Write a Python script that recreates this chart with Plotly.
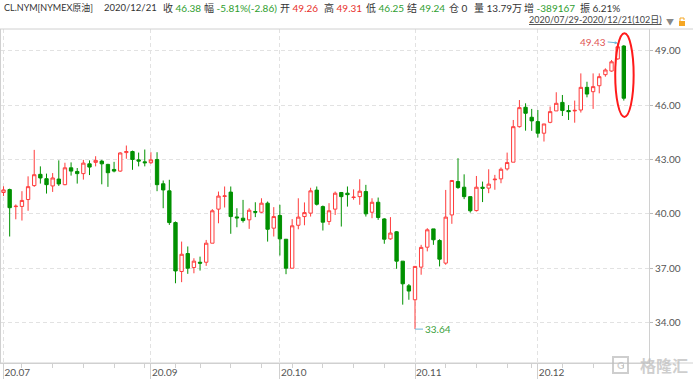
import plotly.graph_objects as go
import pandas as pd

# ---------------- data ----------------
dates = pd.bdate_range("2020-07-29", "2020-12-21", freq="C",
                       holidays=["2020-09-07", "2020-11-26"])

opens = [41.18, 41.34, 40.40, 40.41, 40.79, 41.56, 42.18, 41.94, 41.54, 41.92,
         41.61, 42.54, 42.34, 42.22, 42.76, 42.84, 42.91, 42.73, 42.45, 42.36,
         43.38, 43.44, 42.98, 42.87, 42.82, 43.00, 41.66, 41.27, 39.52, 36.82,
         37.81, 37.04, 37.33, 37.33, 38.38, 40.26, 40.96, 41.20, 39.83, 39.76,
         39.67, 40.13, 40.09, 40.59, 39.21, 39.91, 38.60, 37.00, 39.37, 39.85,
         40.04, 41.31, 40.40, 39.58, 40.26, 41.18, 41.14, 40.90, 40.95, 41.23,
         40.09, 40.64, 39.72, 38.62, 39.01, 37.39, 36.03, 35.26, 37.06, 38.16,
         39.17, 38.53, 37.28, 39.94, 41.78, 41.47, 40.95, 40.18, 41.47, 41.42,
         41.88, 41.93, 42.48, 42.85, 44.81, 45.88, 45.33, 45.09, 44.45, 45.05,
         45.68, 46.15, 45.70, 45.68, 45.73, 46.98, 46.74, 47.07, 47.68, 47.88,
         48.55, 49.26]
highs = [41.52, 41.39, 40.52, 41.25, 42.07, 43.53, 42.62, 42.22, 42.25, 42.95,
         42.82, 42.84, 42.53, 42.98, 42.95, 43.18, 42.98, 42.76, 42.87, 43.40,
         43.77, 43.49, 43.38, 43.55, 43.40, 43.40, 41.84, 41.88, 39.58, 38.47,
         38.20, 37.55, 37.64, 38.56, 40.26, 41.23, 41.51, 41.51, 40.31, 40.77,
         40.31, 40.64, 40.86, 40.68, 40.37, 40.50, 38.60, 39.71, 40.86, 40.63,
         41.44, 41.51, 40.46, 40.59, 41.23, 41.18, 41.51, 41.35, 41.91, 41.60,
         40.86, 40.90, 39.76, 39.82, 39.05, 37.39, 36.13, 37.10, 38.29, 39.21,
         39.17, 38.60, 41.32, 41.87, 43.07, 42.18, 40.95, 42.09, 41.78, 42.46,
         42.15, 42.56, 43.38, 45.18, 46.28, 46.10, 45.79, 45.73, 44.96, 45.92,
         46.71, 46.56, 46.00, 46.25, 47.75, 47.29, 47.75, 47.75, 48.03, 48.49,
         49.43, 49.31]
lows = [40.98, 38.75, 39.70, 39.63, 40.17, 41.49, 41.67, 41.12, 41.21, 41.54,
        41.58, 42.11, 41.67, 41.89, 42.14, 42.62, 41.63, 41.49, 42.29, 42.32,
        43.04, 42.43, 42.62, 42.62, 42.76, 41.25, 40.31, 39.39, 36.17, 36.23,
        36.69, 36.72, 36.87, 37.13, 38.38, 39.48, 40.35, 38.90, 39.26, 39.52,
        39.17, 39.82, 40.04, 38.47, 38.75, 37.70, 36.67, 37.00, 39.15, 39.37,
        39.85, 40.46, 39.08, 39.39, 39.94, 39.30, 40.40, 40.78, 40.50, 39.85,
        39.76, 39.67, 38.35, 38.57, 36.97, 34.99, 35.26, 33.64, 36.64, 37.93,
        38.29, 37.10, 37.19, 39.45, 41.38, 40.81, 40.07, 40.13, 40.65, 41.14,
        41.33, 41.69, 42.39, 42.85, 44.76, 44.59, 44.58, 44.21, 43.99, 45.00,
        45.68, 45.40, 45.18, 45.03, 45.59, 46.43, 45.79, 46.65, 47.57, 47.84,
        48.50, 46.25]
closes = [41.32, 40.34, 40.42, 40.74, 41.50, 42.16, 41.98, 41.61, 41.98, 41.65,
          42.54, 42.36, 42.22, 42.80, 42.58, 42.95, 42.76, 42.27, 42.36, 43.36,
          43.44, 43.00, 42.91, 42.82, 42.98, 41.61, 41.32, 39.52, 36.85, 37.77,
          37.00, 37.39, 37.28, 38.38, 40.17, 40.98, 40.99, 39.85, 39.78, 39.63,
          40.20, 40.09, 40.59, 39.15, 39.85, 38.62, 37.00, 39.34, 39.82, 40.07,
          41.27, 40.53, 39.54, 40.17, 41.14, 40.95, 41.06, 40.92, 41.25, 40.00,
          40.64, 39.80, 38.60, 38.94, 37.39, 36.14, 35.74, 37.10, 38.15, 39.12,
          38.57, 37.50, 39.82, 41.84, 41.45, 40.95, 40.17, 41.47, 41.41, 41.64,
          41.91, 42.46, 42.83, 44.81, 45.86, 45.55, 45.13, 44.45, 44.96, 45.64,
          46.10, 45.70, 45.64, 45.71, 46.98, 46.61, 47.02, 47.57, 47.94, 48.39,
          49.22, 46.38]

ytick_vals = [34, 37, 40, 43, 46, 49]

header_items = [
    ("", "CL.NYM[NYMEX原油]", "dark", 2, 9),
    ("", "2020/12/21", "dark", 102, 9.5),
    ("收", "46.38", "green", 161, 10),
    ("幅", "-5.81%(-2.86)", "green", 202, 10),
    ("开", "49.26", "red", 278, 10),
    ("高", "49.31", "red", 322, 10),
    ("低", "46.25", "green", 364, 10),
    ("结", "49.24", "green", 405, 10),
    ("仓", "0", "dark", 447, 10),
    ("量", "13.79万", "dark", 472, 10),
    ("增", "-389167", "green", 522, 10),
    ("振", "6.21%", "dark", 578, 10),
]
range_text = "2020/07/29-2020/12/21(102日)"

# ---------------- layout constants ----------------
W, H = 693, 380
ML, MR, MT, MB = 1, 44, 29, 17
PW, PH = W - ML - MR, H - MT - MB
FONT = "Lato, Noto Sans CJK SC, sans-serif"
RED, GREEN = "#ff3c3c", "#009100"
TXT_COL = {"dark": "#333333", "green": "#2f9e2f", "red": "#e8302c"}


def px_x(p):
    return (p - ML) / PW


def px_y(p):
    return (H - MB - p) / PH


n = len(dates)
xs = list(range(n))
tick_idx = [0] + [i for i in range(1, n) if dates[i].month != dates[i - 1].month]
tick_idx = [i for i in tick_idx if not (dates[i].month == 8)]
tick_txt = [dates[i].strftime("%y.%m") for i in tick_idx]
minor_idx = [i for i in range(1, n)
             if dates[i].weekday() < dates[i - 1].weekday() and i not in tick_idx]

fig = go.Figure(go.Candlestick(
    x=xs, open=opens, high=highs, low=lows, close=closes,
    increasing=dict(line=dict(color=RED, width=1), fillcolor="#ffffff"),
    decreasing=dict(line=dict(color=GREEN, width=1), fillcolor=GREEN),
    whiskerwidth=0, hoverinfo="skip", showlegend=False,
))

fig.update_layout(
    template="none",
    width=W, height=H,
    margin=dict(l=ML, r=MR, t=MT, b=MB, pad=0, autoexpand=False),
    paper_bgcolor="white", plot_bgcolor="white",
    boxgap=0.22,
    font=dict(family=FONT, size=10, color="#555"),
    xaxis=dict(
        automargin=False,
        range=[-0.41, 105.1], rangeslider=dict(visible=False),
        tickmode="array", tickvals=tick_idx, ticktext=tick_txt,
        ticks="outside", ticklen=15, tickcolor="#d0d0d0", tickwidth=1,
        ticklabelposition="outside right",
        tickfont=dict(size=10, color="#555"),
        showgrid=True, gridcolor="#e2e2e2", griddash="4px,3px", gridwidth=1,
        showline=True, linecolor="#d0d0d0", linewidth=1, mirror=False,
        zeroline=False, fixedrange=True,
        minor=dict(tickmode="array", tickvals=minor_idx, ticks="outside",
                   ticklen=4, tickcolor="#d0d0d0", showgrid=False),
    ),
    yaxis=dict(
        automargin=False,
        side="right", range=[31.77, 50.20],
        tickmode="array", tickvals=ytick_vals,
        ticktext=[f"{v:.2f}" for v in ytick_vals],
        ticks="outside", ticklen=3, tickcolor="#bbbbbb",
        tickfont=dict(size=10, color="#555"),
        showgrid=True, gridcolor="#e2e2e2", griddash="4px,3px", gridwidth=1,
        showline=True, linecolor="#d0d0d0", linewidth=1, mirror=True,
        zeroline=False, fixedrange=True,
    ),
)

# full-width border lines at top and bottom of plot
for yy in (1, 0):
    fig.add_shape(type="line", xref="paper", yref="paper",
                  x0=px_x(0), x1=px_x(W), y0=yy, y1=yy,
                  line=dict(color="#d0d0d0", width=1))

# header
anns = []
for lab, val, col, x0, fs in header_items:
    if lab:
        txt = f'<span style="color:#333">{lab}</span> <span style="color:{TXT_COL[col]}">{val}</span>'
    else:
        txt = f'<span style="color:{TXT_COL[col]}">{val}</span>'
    anns.append(dict(text=txt, xref="paper", yref="paper", x=px_x(x0), y=px_y(7.5),
                     xanchor="left", yanchor="middle", showarrow=False,
                     font=dict(size=fs, family=FONT)))
anns.append(dict(text=f"<u>{range_text}</u>", xref="paper", yref="paper",
                 x=px_x(664), y=px_y(27), xanchor="right", yanchor="bottom",
                 showarrow=False, font=dict(size=9, color="#444", family=FONT)))
anns.append(dict(text="▼", xref="paper", yref="paper", x=px_x(670), y=px_y(21.5),
                 xanchor="center", yanchor="middle", showarrow=False,
                 font=dict(size=8, color="#888")))
fig.add_shape(type="rect", xref="paper", yref="paper",
              x0=px_x(679), x1=px_x(685), y0=px_y(26), y1=px_y(21),
              fillcolor="#f5a623", line=dict(width=0))
fig.add_shape(type="path", xref="paper", yref="paper",
              path=f"M {px_x(680)} {px_y(21)} L {px_x(680)} {px_y(18)} L {px_x(684)} {px_y(18)} L {px_x(684)} {px_y(20)}",
              line=dict(color="#f5a623", width=1))

# high / low markers
imax = max(range(n), key=lambda i: highs[i])
imin = min(range(n), key=lambda i: lows[i])
anns.append(dict(x=imax, y=highs[imax], xref="x", yref="y", text=f"{highs[imax]:.2f}",
                 showarrow=True, arrowhead=2, arrowsize=0.6, arrowwidth=1,
                 arrowcolor="#6bb7d8", ax=-10, ay=-1, xanchor="right",
                 font=dict(size=10, color="#e05555")))
anns.append(dict(x=imin, y=lows[imin], xref="x", yref="y", text=f"{lows[imin]:.2f}",
                 showarrow=True, arrowhead=0, arrowwidth=1,
                 arrowcolor="#6bb7d8", ax=8, ay=0, xanchor="left",
                 font=dict(size=10, color="#3aa03a")))

# highlight ellipse on last candle
last = n - 1
fig.add_shape(type="circle", xref="x", yref="y",
              x0=last - 1.4, x1=last + 1.6,
              y0=lows[last] - 0.9, y1=highs[last] + 0.65,
              line=dict(color="#ff1a1a", width=2))

# watermark
anns.append(dict(text="<b>格隆汇</b>", xref="paper", yref="paper",
                 x=px_x(690), y=px_y(365), xanchor="right", yanchor="middle",
                 showarrow=False, font=dict(size=16, color="rgba(190,190,190,0.75)",
                                            family="Noto Sans CJK SC")))
fig.add_shape(type="rect", xref="paper", yref="paper",
              x0=px_x(613), x1=px_x(628), y0=px_y(373), y1=px_y(357),
              line=dict(color="rgba(190,190,190,0.75)", width=2))
anns.append(dict(text="<b>G</b>", xref="paper", yref="paper",
                 x=px_x(620.5), y=px_y(365), xanchor="center", yanchor="middle",
                 showarrow=False, font=dict(size=10, color="rgba(190,190,190,0.75)")))

fig.update_layout(annotations=anns)
fig.write_html("out.html", config={"displayModeBar": False},
               post_script="document.body.style.margin='0';document.body.style.overflow='hidden';")
